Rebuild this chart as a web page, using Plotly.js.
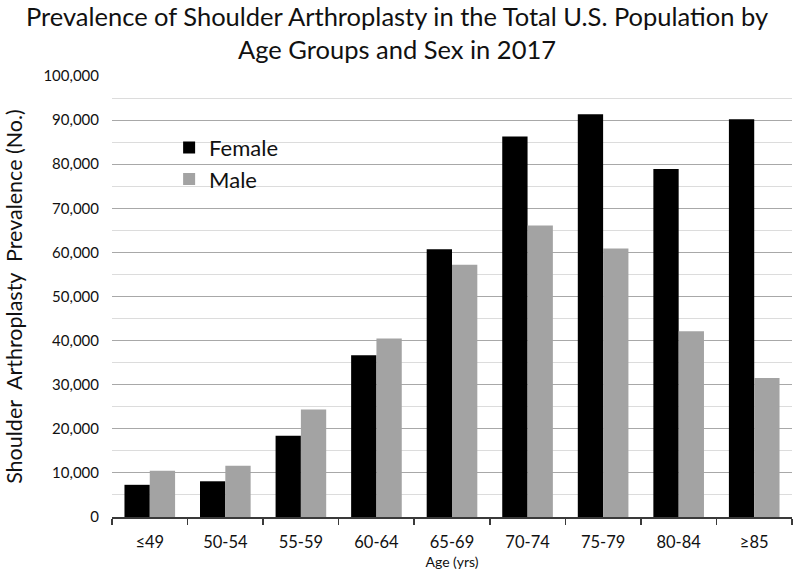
<!DOCTYPE html>
<html>
<head>
<meta charset="utf-8">
<script src="https://cdn.plot.ly/plotly-3.0.1.min.js"></script>
<style>
  html, body { margin: 0; padding: 0; background: #fff; }
  #chart { width: 794px; height: 574px; }
</style>
</head>
<body>
<div id="chart"></div>
<script>
  // ---------- Data ----------
  const ageGroups = ["≤49", "50-54", "55-59", "60-64", "65-69", "70-74", "75-79", "80-84", "≥85"];
  const female = [7300, 8100, 18400, 36700, 60700, 86300, 91300, 78900, 90200];
  const male   = [10500, 11600, 24400, 40500, 57200, 66100, 60900, 42100, 31500];
  const yTickVals = [0, 10000, 20000, 30000, 40000, 50000, 60000, 70000, 80000, 90000, 100000];

  const FONT = "Lato, 'Open Sans', sans-serif";

  const traces = [
    {
      type: "bar", name: "Female", x: ageGroups, y: female,
      marker: { color: "#000000" }, legendgroup: "f",
    },
    {
      type: "bar", name: "Male", x: ageGroups, y: male,
      marker: { color: "#a3a3a3" }, legendgroup: "m",
    },
  ];

  const layout = {
    width: 794, height: 574,
    paper_bgcolor: "#fff", plot_bgcolor: "#fff",
    font: { family: FONT, color: "#111" },
    margin: { l: 112, r: 2, t: 76, b: 57 },
    barmode: "group", bargap: 0.33, bargroupgap: 0,
    title: {
      text: "Prevalence of Shoulder Arthroplasty in the Total U.S. Population by<br>Age Groups and Sex in 2017",
      font: { family: FONT, size: 25.5, color: "#111" },
      x: 0.5, xanchor: "center", y: 0.955, yanchor: "top", yref: "container",
    },
    xaxis: {
      type: "category",
      showline: true, linecolor: "#3a3a3a", linewidth: 1.5,
      ticks: "outside", tickson: "boundaries", ticklen: 6, tickcolor: "#3a3a3a", tickwidth: 1.5,
      tickfont: { size: 16.5, color: "#111" },
      ticklabelstandoff: 10,
      showgrid: false,
      title: { text: "Age (yrs)", font: { size: 14, color: "#111" }, standoff: 6 },
    },
    yaxis: {
      range: [0, 100000],
      tickvals: yTickVals, tickformat: ",d",
      tickfont: { size: 15, color: "#111" },
      ticklabelstandoff: 12,
      showgrid: true, gridcolor: "#a8a8a8", gridwidth: 1,
      minor: { dtick: 5000, showgrid: true, gridcolor: "#dcdcdc", gridwidth: 1 },
      zeroline: false, showline: false,
      title: { text: "Shoulder  Arthroplasty  Prevalence (No.)", font: { size: 21.5, color: "#111" }, standoff: 14 },
    },
    legend: {
      x: 0.084, y: 0.885, xanchor: "left", yanchor: "top",
      font: { size: 22, color: "#111" },
      bgcolor: "rgba(0,0,0,0)", traceorder: "normal", tracegroupgap: 16,
    },
    showlegend: true,
  };

  Plotly.newPlot("chart", traces, layout, { displayModeBar: false, staticPlot: true });
</script>
</body>
</html>
